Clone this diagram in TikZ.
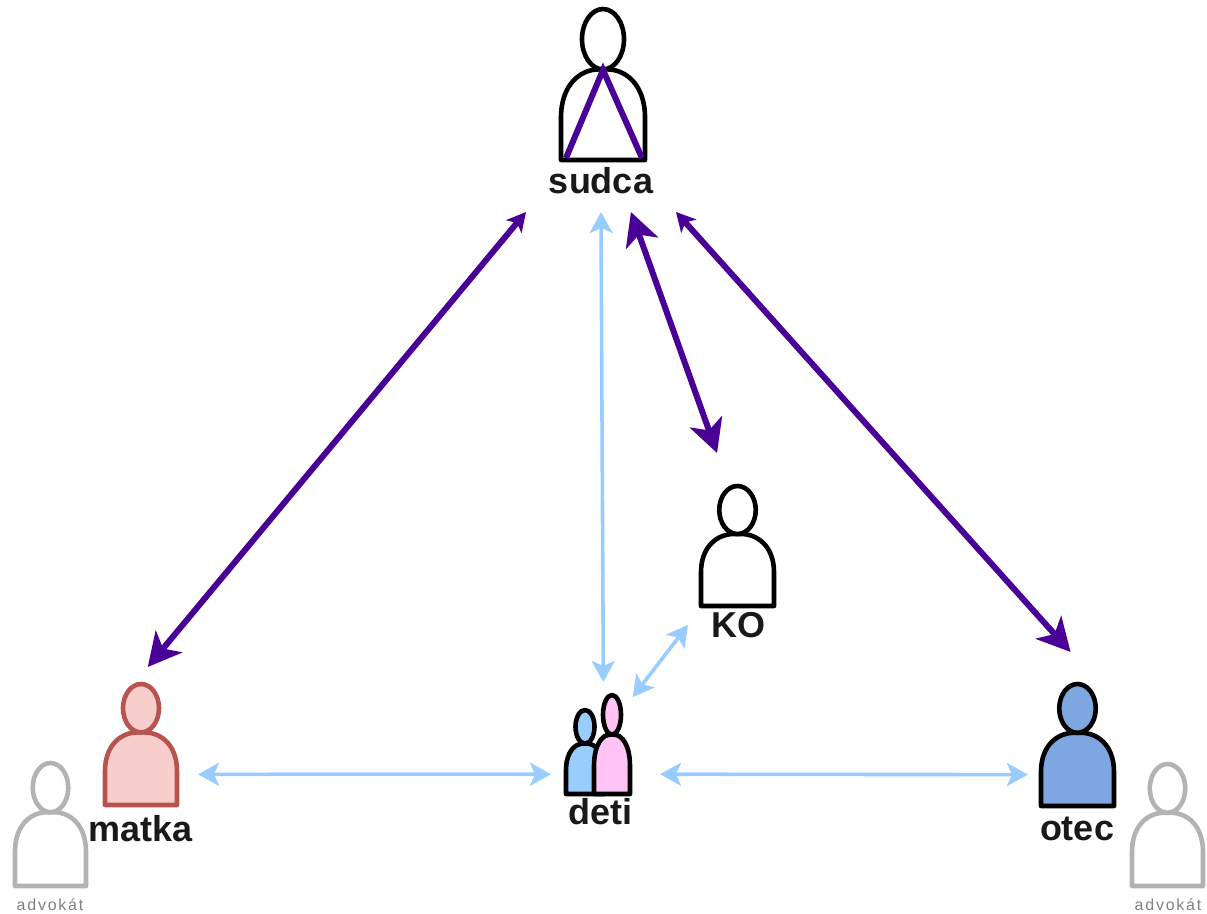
\documentclass[tikz,border=0pt]{standalone}
\usepackage{fontspec}
\setmainfont{Liberation Sans}
\newfontfamily\spacedfont[LetterSpace=11]{Liberation Sans}
\usetikzlibrary{arrows.meta}
\definecolor{courtpurple}{RGB}{72, 0, 150}
\definecolor{linkblue}{RGB}{153, 204, 255}
\definecolor{motherfill}{RGB}{248, 206, 204}
\definecolor{motherline}{RGB}{184, 84, 80}
\definecolor{fatherfill}{RGB}{126, 166, 224}
\definecolor{childblue}{RGB}{153, 204, 255}
\definecolor{childpink}{RGB}{255, 196, 245}
\definecolor{lawyergray}{RGB}{179, 179, 179}
\tikzset{
  figure/.style={draw=black, fill=white, line width=4.6pt, line join=round},
  port/.style={inner sep=0pt, outer sep=0pt},
  who/.style={port, font=\fontsize{36}{38}\selectfont\bfseries, text=black!90},
  lawyername/.style={port, font=\fontsize{16}{18}\selectfont\spacedfont, text=gray},
  court/.style={draw=courtpurple, line width=6pt, {Stealth[length=33pt, width=34pt, inset=9pt]}-{Stealth[length=33pt, width=34pt, inset=9pt]}},
  courtsmall/.style={draw=courtpurple, line width=6pt, {Stealth[length=19pt, width=20pt, inset=5pt]}-{Stealth[length=33pt, width=34pt, inset=9pt]}},
  link/.style={draw=linkblue, line width=3.6pt, {Stealth[length=21pt, width=23pt, inset=5pt]}-{Stealth[length=21pt, width=23pt, inset=5pt]}}
}
% centre x, top, width, height, style
\newcommand{\figurebody}[5]{
  \path[figure, #5] ({#1-#3/2},{#2+#4}) -- ({#1-#3/2},{#2+0.72*#4})
    .. controls ({#1-#3/2},{#2+0.50*#4}) and ({#1-0.27*#3},{#2+0.40*#4}) .. ({#1-0.05*#3},{#2+0.40*#4})
    -- ({#1+0.05*#3},{#2+0.40*#4})
    .. controls ({#1+0.27*#3},{#2+0.40*#4}) and ({#1+#3/2},{#2+0.50*#4}) .. ({#1+#3/2},{#2+0.72*#4})
    -- ({#1+#3/2},{#2+#4}) -- cycle;
  \path[figure, #5] (#1,{#2+0.2*#4}) ellipse [x radius={0.25*#3}, y radius={0.2*#4}];
}
\begin{document}
\begin{tikzpicture}[x=1pt, y=-1pt]
  \useasboundingbox (0,0) rectangle (1207,913);

  % Figures
  \figurebody{603}{9}{84}{151}{}
  \draw[courtpurple, line width=6pt] (566,158) -- (603,70) -- (642,158);
  \figurebody{141}{684}{72}{121}{draw=motherline, fill=motherfill}
  \figurebody{1077.5}{684}{73}{122}{fill=fatherfill}
  \figurebody{737.5}{486}{73}{120}{}
  \figurebody{50.5}{763}{71}{123}{draw=lawyergray}
  \figurebody{1167.5}{764}{71}{122}{draw=lawyergray}
  \figurebody{585}{710}{38}{84}{fill=childblue}
  \figurebody{612}{695}{36}{99}{fill=childpink}

  % Ports for the connectors
  \node[who, minimum width=150pt, minimum height=62pt] (sudca) at (601,181) {sudca};
  \node[port, minimum width=114pt, minimum height=154pt] (matka) at (141,744) {};
  \node[port, minimum width=98pt, minimum height=184pt] (otec) at (1077,744) {};
  \node[port, minimum width=101pt, minimum height=172pt] (ko) at (738.5,539) {};
  \node[port, minimum width=109pt, minimum height=124pt] (deti) at (605.5,744) {};

  % Labels
  \node[who] (matkaLabel) at (141,829) {matka};
  \node[who] (otecLabel) at (1077,829) {otec};
  \node[who] (koLabel) at (738,625) {KO};
  \node[who] (detiLabel) at (600,812) {deti};
  \node[lawyername] (advokatLeft) at (50,905) {advokát};
  \node[lawyername] (advokatRight) at (1168,905) {advokát};

  % Connectors
  \draw[courtsmall] (sudca.south west) -- (matka.85.5);
  \draw[courtsmall] (sudca.south east) -- (otec.94.4);
  \draw[court] (sudca.-46) -- (ko.104);
  \draw[link] (sudca.south) -- (deti.92);
  \draw[link, shorten <=-19pt] (deti.58) -- (ko.south west);
  \draw[link] (matka.-28.5) -- (deti.209.6);
  \draw[link] (deti.-29.6) -- (otec.212.3);
\end{tikzpicture}
\end{document}
